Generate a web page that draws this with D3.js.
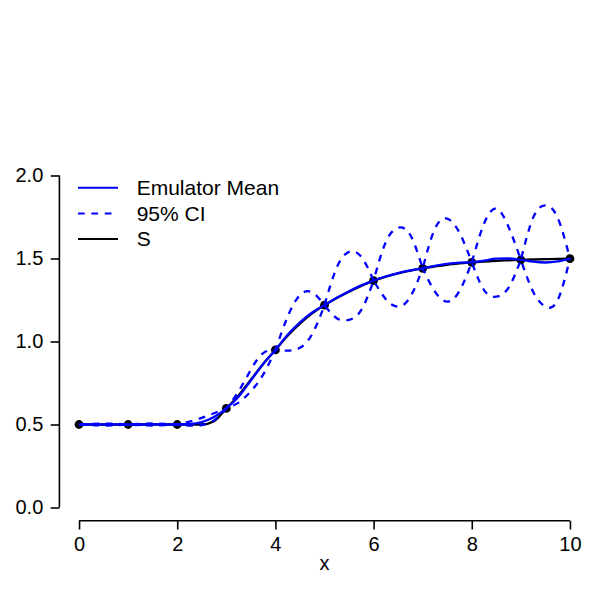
<!DOCTYPE html>
<html>
<head>
<meta charset="utf-8">
<script src="https://cdn.jsdelivr.net/npm/d3@7"></script>
<style>
  body { margin: 0; background: #fff; }
  text { font-family: "Liberation Sans", Arial, sans-serif; fill: #000; }
</style>
</head>
<body>
<div id="chart"></div>
<script>
// Grid the curves are read on
const gridX = [0, 0.25, 0.5, 0.75, 1, 1.25, 1.5, 1.75, 2, 2.25, 2.5, 2.75, 3, 3.25, 3.5, 3.75,
  4, 4.25, 4.5, 4.75, 5, 5.25, 5.5, 5.75, 6, 6.25, 6.5, 6.75, 7, 7.25, 7.5, 7.75,
  8, 8.25, 8.5, 8.75, 9, 9.25, 9.5, 9.75, 10];

// True function S
const sTrue = [0.5, 0.5, 0.5, 0.5, 0.5, 0.5, 0.5, 0.5, 0.5, 0.5, 0.5, 0.52, 0.597, 0.675, 0.77, 0.865,
  0.949, 1.035, 1.108, 1.17, 1.219, 1.262, 1.3, 1.335, 1.367, 1.39, 1.41, 1.427, 1.441, 1.452, 1.462, 1.47,
  1.477, 1.482, 1.486, 1.489, 1.492, 1.494, 1.496, 1.498, 1.499];

// Emulator mean
const emMean = [0.5, 0.5, 0.5, 0.5, 0.5, 0.5, 0.5, 0.5, 0.5, 0.503, 0.515, 0.545, 0.597, 0.667, 0.765, 0.865,
  0.949, 1.04, 1.115, 1.175, 1.219, 1.263, 1.303, 1.338, 1.367, 1.392, 1.412, 1.428, 1.441, 1.455, 1.467, 1.475,
  1.477, 1.487, 1.499, 1.5, 1.492, 1.481, 1.476, 1.482, 1.499];

// 95% CI bounds
const ciUpper = [0.5, 0.504, 0.506, 0.504, 0.5, 0.504, 0.506, 0.504, 0.5, 0.518, 0.54, 0.568, 0.597, 0.7, 0.83, 0.93,
  0.949, 1.15, 1.28, 1.295, 1.219, 1.446, 1.54, 1.51, 1.367, 1.6, 1.685, 1.64, 1.441, 1.68, 1.74, 1.655,
  1.477, 1.71, 1.8, 1.69, 1.492, 1.746, 1.82, 1.745, 1.499];
const ciLower = [0.5, 0.496, 0.494, 0.496, 0.5, 0.496, 0.494, 0.496, 0.5, 0.494, 0.497, 0.525, 0.597, 0.632, 0.7, 0.8,
  0.949, 0.945, 0.962, 1.045, 1.219, 1.14, 1.13, 1.19, 1.367, 1.255, 1.21, 1.27, 1.441, 1.3, 1.24, 1.305,
  1.477, 1.31, 1.27, 1.325, 1.492, 1.3, 1.21, 1.25, 1.499];

// Design points
const obsX = [0, 1, 2, 3, 4, 5, 6, 7, 8, 9, 10];
const obsY = [0.5, 0.5, 0.5, 0.597, 0.949, 1.219, 1.367, 1.441, 1.477, 1.492, 1.499];

const xTicks = [0, 2, 4, 6, 8, 10];
const yTicks = [0, 0.5, 1, 1.5, 2];
const legendLabels = ["Emulator Mean", "95% CI", "S"];

const W = 598, H = 598;
const FS = 20;
const BLUE = "#0000ff";
const DASH = "6.7,6.7";
const LW = 2.3;

const svg = d3.select("#chart").append("svg").attr("width", W).attr("height", H);

// R-style scales with 4% padding
const x = d3.scaleLinear().domain([-0.4, 10.4]).range([59.4, 589.6]);
const y = d3.scaleLinear().domain([-0.08, 2.08]).range([520.8, 162.2]);

// Axes
const xAxis = svg.append("g")
  .attr("transform", "translate(0," + y(-0.08) + ")")
  .call(d3.axisBottom(x).tickValues(xTicks).tickFormat(d3.format("d")).tickSize(8.7).tickPadding(7.3));
xAxis.select(".domain").remove();
xAxis.append("line")
  .attr("x1", x(0)).attr("x2", x(10))
  .attr("stroke", "#000").attr("stroke-width", 1.6);

const yAxis = svg.append("g")
  .attr("transform", "translate(" + x(-0.4) + ",0)")
  .call(d3.axisLeft(y).tickValues(yTicks).tickFormat(d3.format(".1f")).tickSize(8.7).tickPadding(7.4));
yAxis.select(".domain").remove();
yAxis.append("line")
  .attr("y1", y(0)).attr("y2", y(2))
  .attr("stroke", "#000").attr("stroke-width", 1.6);

svg.selectAll(".tick line").attr("stroke", "#000").attr("stroke-width", 1.6);
svg.selectAll(".tick text").style("font-size", FS + "px").attr("fill", "#000")
  .style("font-family", "'Liberation Sans', Arial, sans-serif");

svg.append("text")
  .attr("x", (x(-0.4) + x(10.4)) / 2)
  .attr("y", 563.3)
  .attr("dy", "0.35em")
  .attr("text-anchor", "middle")
  .style("font-size", FS + "px")
  .text("x");

// Points
svg.append("g").selectAll("circle")
  .data(obsX)
  .enter()
  .append("circle")
  .attr("cx", (d) => x(d))
  .attr("cy", (d, i) => y(obsY[i]))
  .attr("r", 4.4)
  .attr("fill", "#000");

const pts = (arr) => gridX.map((d, i) => [d, arr[i]]);

// True S
const smooth = d3.line().x((d) => x(d[0])).y((d) => y(d[1])).curve(d3.curveMonotoneX);
svg.append("path")
  .attr("d", smooth(pts(sTrue)))
  .attr("fill", "none").attr("stroke", "#000").attr("stroke-width", LW);

// Emulator mean
svg.append("path")
  .attr("d", smooth(pts(emMean)))
  .attr("fill", "none").attr("stroke", BLUE).attr("stroke-width", LW);

// CI: one smooth piece per interval, joined so dashes run on
const piece = d3.line().x((d) => x(d[0])).y((d) => y(d[1])).curve(d3.curveNatural);
function ciPath(arr) {
  const p = pts(arr);
  var out = "";
  for (var i = 0; i < obsX.length - 1; i++) {
    var s = piece(p.slice(i * 4, i * 4 + 5));
    out += i === 0 ? s : "L" + s.slice(1);
  }
  return out;
}
[ciUpper, ciLower].forEach((arr) => {
  svg.append("path")
    .attr("d", ciPath(arr))
    .attr("fill", "none").attr("stroke", BLUE).attr("stroke-width", LW)
    .attr("stroke-dasharray", DASH);
});

// Legend
const legend = svg.append("g").attr("id", "legend");
const legendColors = [BLUE, BLUE, "#000"];
const legendDash = [null, DASH, null];
legendLabels.forEach((lab, i) => {
  var ly = 187.7 + i * 25.7;
  legend.append("line")
    .attr("x1", 78).attr("x2", 118).attr("y1", ly).attr("y2", ly)
    .attr("stroke", legendColors[i]).attr("stroke-width", 2)
    .attr("stroke-dasharray", legendDash[i]);
  legend.append("text")
    .attr("x", 136.7).attr("y", ly).attr("dy", "0.35em")
    .style("font-size", "21px")
    .text(lab);
});
</script>
</body>
</html>
